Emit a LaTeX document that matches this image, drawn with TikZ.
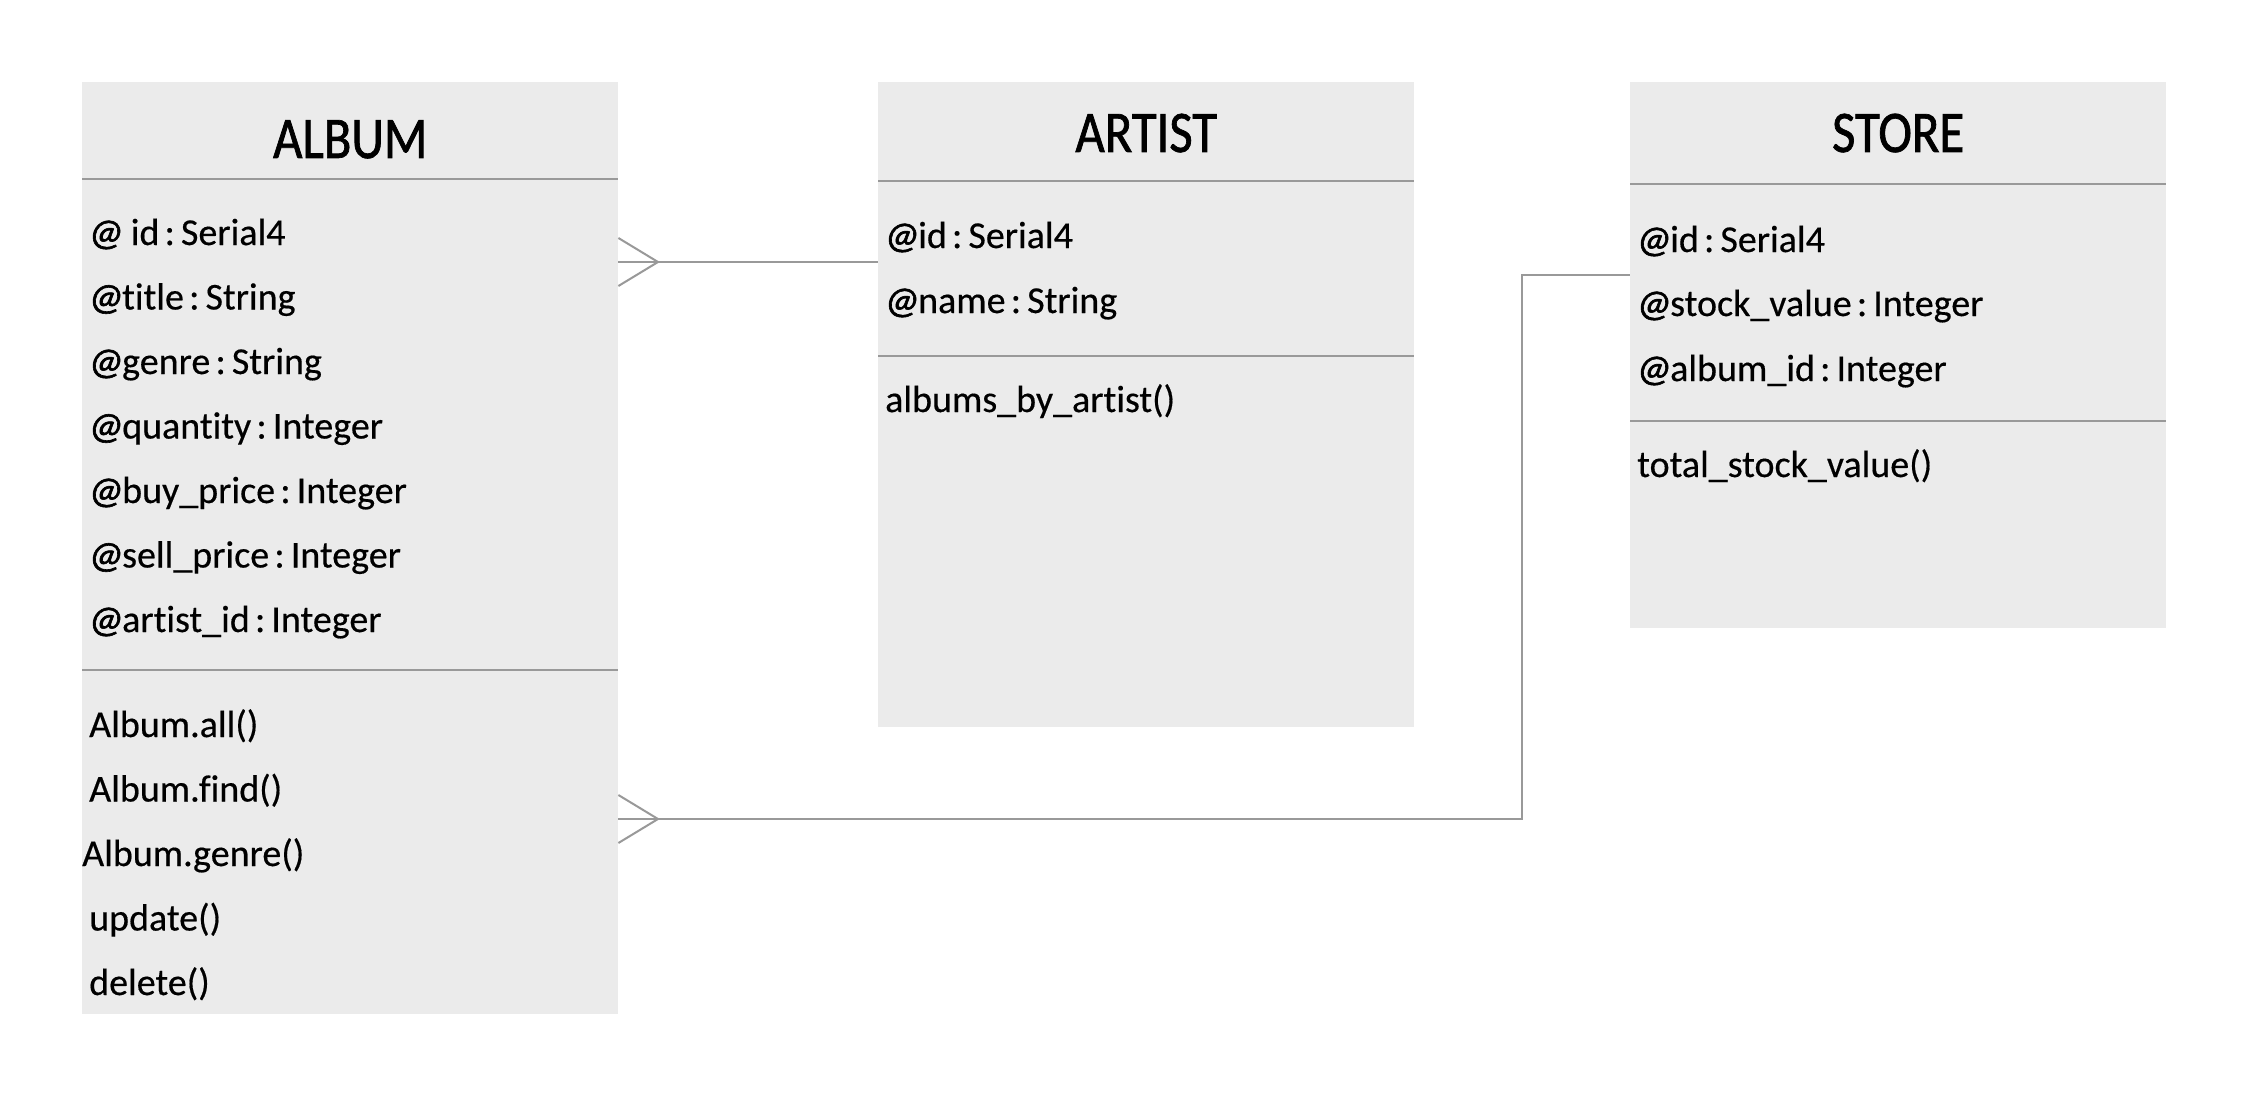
\documentclass[tikz,border=0pt]{standalone}
\usepackage{fontspec}
\setmainfont{Carlito}[Ligatures=NoCommon,FakeBold=0.4]
\newfontfamily\titlefont{Carlito}[Ligatures=NoCommon,FakeStretch=0.86,FakeBold=1.2]
\newfontfamily\atfont{Carlito}[FakeBold=1.6,FakeSlant=0.12]
\usetikzlibrary{calc}
\definecolor{boxfill}{HTML}{EBEBEB}
\definecolor{linegray}{HTML}{999999}
\newcommand{\at}{{\atfont @}}
\newcommand{\cln}{\hspace{0.14em}:\hspace{0.16em}}
\begin{document}
\begin{tikzpicture}[x=1pt,y=-1pt,
  umlbox/.style={fill=boxfill,draw=none,anchor=north west,inner sep=0pt},
  sep/.style={draw=linegray,line width=2.5pt},
  conn/.style={draw=linegray,line width=2pt},
  title/.style={font=\titlefont\fontsize{59}{62}\selectfont,anchor=base,inner sep=0pt},
  row/.style={font=\fontsize{38}{42}\selectfont,anchor=base west,inner sep=0pt}]
\useasboundingbox (0,0) rectangle (2258,1110);
\fill[white] (0,0) rectangle (2258,1110);
% boxes
\node[umlbox,minimum width=536pt,minimum height=932pt] (album) at (82,82) {};
\node[umlbox,minimum width=536pt,minimum height=645pt] (artist) at (878,82) {};
\node[umlbox,minimum width=536pt,minimum height=546pt] (store) at (1630,82) {};
% ALBUM
\node[title] (albumT) at (album.north |- 0,158) {ALBUM};
\draw[sep] (album.west |- 0,179) -- (album.east |- 0,179);
\node[row] (a1) at (88,245) {\at\ id\cln Serial4};
\node[row] (a2) at (88,309.5) {\at title\cln String};
\node[row] (a3) at (88,374) {\at genre\cln String};
\node[row] (a4) at (88,438.5) {\at quantity\cln Integer};
\node[row] (a5) at (88,503) {\at buy\_price\cln Integer};
\node[row] (a6) at (88,567.5) {\at sell\_price\cln Integer};
\node[row] (a7) at (88,632) {\at artist\_id\cln Integer};
\draw[sep] (album.west |- 0,670) -- (album.east |- 0,670);
\node[row] (m1) at (89,737) {Album.all()};
\node[row] (m2) at (89,801.5) {Album.find()};
\node[row] (m3) at (82,866) {Album.genre()};
\node[row] (m4) at (89,930.5) {update()};
\node[row] (m5) at (89,995) {delete()};
% ARTIST
\node[title] (artistT) at (artist.north |- 0,152) {ARTIST};
\draw[sep] (artist.west |- 0,181) -- (artist.east |- 0,181);
\node[row] (r1) at (884,248) {\at id\cln Serial4};
\node[row] (r2) at (884,313) {\at name\cln String};
\draw[sep] (artist.west |- 0,356) -- (artist.east |- 0,356);
\node[row] (r3) at (885,412) {albums\_by\_artist()};
% STORE
\node[title] (storeT) at (store.north |- 0,152) {STORE};
\draw[sep] (store.west |- 0,184) -- (store.east |- 0,184);
\node[row] (s1) at (1636,252) {\at id\cln Serial4};
\node[row] (s2) at (1636,316) {\at stock\_value\cln Integer};
\node[row] (s3) at (1636,381) {\at album\_id\cln Integer};
\draw[sep] (store.west |- 0,421) -- (store.east |- 0,421);
\node[row] (s4) at (1637,477) {total\_stock\_value()};
% connector ALBUM - ARTIST
\coordinate (c1) at (658,262);
\draw[conn] (album.east |- c1) -- (artist.west |- c1);
\draw[conn] (album.east |- 0,238) -- (c1) -- (album.east |- 0,286);
% connector ALBUM - STORE
\coordinate (c2) at (658,819);
\coordinate (bend) at (1522,275);
\draw[conn] (album.east |- c2) -- (bend |- c2) -- (bend) -- (store.west |- bend);
\draw[conn] (album.east |- 0,795) -- (c2) -- (album.east |- 0,843);
\end{tikzpicture}
\end{document}
